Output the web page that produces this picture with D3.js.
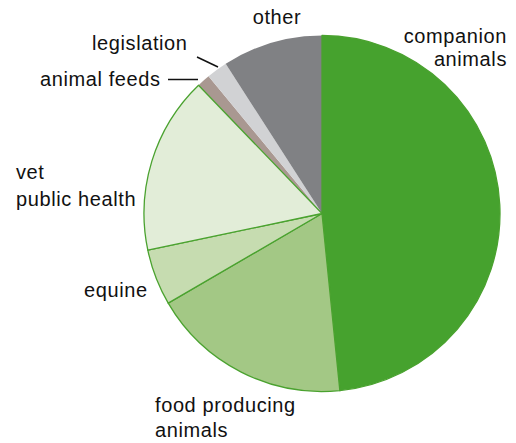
<!DOCTYPE html>
<html>
<head>
<meta charset="utf-8">
<script src="https://cdn.jsdelivr.net/npm/d3@7"></script>
<style>
  html, body { margin: 0; padding: 0; background: #fff; }
  svg { display: block; }
  text { font-family: "Liberation Sans", Arial, Helvetica, sans-serif; font-size: 20px; letter-spacing: 0.6px; fill: #111; }
</style>
</head>
<body>
<svg id="chart" width="516" height="443"></svg>
<script>
// Share of work by area (percent), clockwise from 12 o'clock
const categories = ["companion animals", "food producing animals", "equine", "vet public health", "animal feeds", "legislation", "other"];
const shares = [48.4, 18.2, 5.1, 16.1, 1.2, 1.9, 9.1];
const fills = ["#46a22e", "#a3c885", "#c6dcb0", "#e2edd8", "#a99891", "#d1d2d4", "#808184"];
const outlined = [true, true, true, true, false, false, false];

// Label text lines with their anchor positions
const labelLines = [
  { text: "other", x: 277, y: 24, anchor: "middle" },
  { text: "companion", x: 507, y: 43, anchor: "end" },
  { text: "animals", x: 507, y: 66, anchor: "end" },
  { text: "legislation", x: 92, y: 50, anchor: "start" },
  { text: "animal feeds", x: 40, y: 86, anchor: "start" },
  { text: "vet", x: 16, y: 179, anchor: "start" },
  { text: "public health", x: 16, y: 206, anchor: "start" },
  { text: "equine", x: 84, y: 297, anchor: "start" },
  { text: "food producing", x: 155, y: 412, anchor: "start" },
  { text: "animals", x: 155, y: 437, anchor: "start" }
];
const leaders = [
  { x1: 197, y1: 57, x2: 218, y2: 67 },
  { x1: 168, y1: 79.5, x2: 198, y2: 79.5 }
];

const svg = d3.select("#chart");
const cx = 322, cy = 213.5, radius = 178;

const data = categories.map((c, i) => ({ name: c, value: shares[i], fill: fills[i], stroke: outlined[i] }));
const pie = d3.pie().value(d => d.value).sort(null);
const arc = d3.arc().innerRadius(0).outerRadius(radius);

const g = svg.append("g").attr("transform", `translate(${cx},${cy})`);
const arcs = pie(data);

// unstroked slices first, then outlined green ones on top
g.selectAll("path.plain")
  .data(arcs.filter(a => !a.data.stroke))
  .join("path")
  .attr("class", "plain")
  .attr("d", arc)
  .attr("fill", d => d.data.fill);

g.selectAll("path.outlined")
  .data(arcs.filter(a => a.data.stroke))
  .join("path")
  .attr("class", "outlined")
  .attr("d", arc)
  .attr("fill", d => d.data.fill)
  .attr("stroke", "#4aa22f")
  .attr("stroke-width", 1.3)
  .attr("stroke-linejoin", "round");

svg.selectAll("line.leader")
  .data(leaders)
  .join("line")
  .attr("class", "leader")
  .attr("x1", d => d.x1).attr("y1", d => d.y1)
  .attr("x2", d => d.x2).attr("y2", d => d.y2)
  .attr("stroke", "#111")
  .attr("stroke-width", 1.5);

svg.selectAll("text.label")
  .data(labelLines)
  .join("text")
  .attr("class", "label")
  .attr("x", d => d.x)
  .attr("y", d => d.y)
  .attr("text-anchor", d => d.anchor)
  .text(d => d.text);
</script>
</body>
</html>
